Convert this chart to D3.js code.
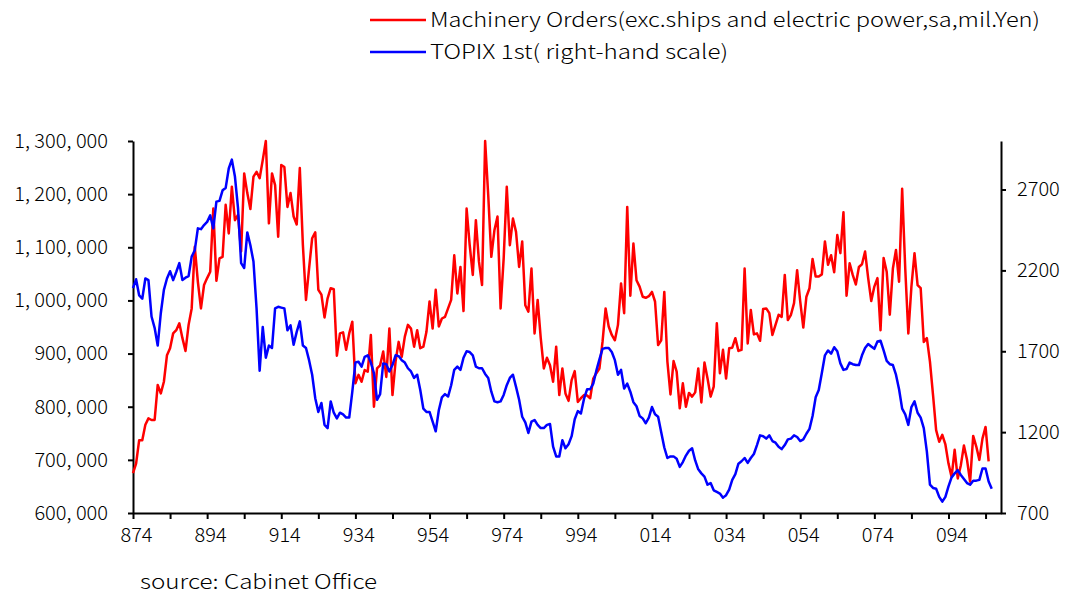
<!DOCTYPE html>
<html>
<head>
<meta charset="utf-8">
<script src="https://cdn.jsdelivr.net/npm/d3@7"></script>
<style>
body { margin: 0; background: #fff; }
text { font-family: "Noto Sans CJK JP", "Noto Sans", sans-serif; font-weight: 300; fill: #000; }
.axis path, .axis line { stroke: #000; stroke-width: 2; }
</style>
</head>
<body>
<div id="chart-area"></div>
<script>

// SVG Size
var width = 1065,
		height = 596;

// Monthly categories, 1987/4 .. 2010/9
var months = d3.timeMonths(new Date(1987, 3, 1), new Date(2010, 9, 1));

// Machinery Orders (exc. ships and electric power, sa, mil. Yen)
var machineryOrders = [
	675000, 693000, 737000, 737000, 766000, 778000, 775000, 775000, 841000, 825000,
	847000, 897000, 910000, 938000, 944000, 957000, 929000, 905000, 954000, 985000,
	1101000, 1035000, 985000, 1029000, 1042000, 1054000, 1173000, 1037000, 1079000, 1082000,
	1180000, 1126000, 1214000, 1151000, 1161000, 1092000, 1239000, 1202000, 1172000, 1233000,
	1242000, 1230000, 1264000, 1300000, 1145000, 1239000, 1217000, 1120000, 1255000, 1251000,
	1176000, 1202000, 1158000, 1143000, 1249000, 1104000, 1001000, 1060000, 1117000, 1128000,
	1020000, 1011000, 968000, 1004000, 1023000, 1021000, 896000, 938000, 940000, 907000,
	938000, 960000, 844000, 860000, 847000, 869000, 866000, 935000, 800000, 872000,
	878000, 904000, 856000, 947000, 822000, 885000, 922000, 894000, 932000, 954000,
	947000, 913000, 944000, 910000, 913000, 941000, 998000, 947000, 1020000, 951000,
	966000, 969000, 985000, 1001000, 1085000, 1013000, 1063000, 980000, 1173000, 1104000,
	1048000, 1151000, 1073000, 1029000, 1300000, 1198000, 1082000, 1132000, 1158000, 985000,
	1079000, 1214000, 1104000, 1154000, 1129000, 1063000, 1111000, 991000, 979000, 1060000,
	938000, 1001000, 929000, 872000, 892000, 878000, 847000, 913000, 822000, 872000,
	825000, 811000, 850000, 867000, 809000, 816000, 822000, 821000, 816000, 853000,
	863000, 872000, 922000, 985000, 951000, 935000, 925000, 954000, 1032000, 976000,
	1176000, 1009000, 1107000, 1038000, 1026000, 1007000, 1005000, 1008000, 1016000, 998000,
	916000, 925000, 1016000, 885000, 823000, 886000, 866000, 797000, 844000, 800000,
	826000, 819000, 827000, 872000, 808000, 883000, 853000, 819000, 838000, 957000,
	863000, 907000, 853000, 910000, 911000, 929000, 905000, 907000, 1060000, 919000,
	982000, 936000, 938000, 924000, 984000, 985000, 976000, 935000,
	954000, 973000, 969000, 1048000, 963000, 973000, 995000, 1057000, 998000, 949000,
	1007000, 1023000, 1078000, 1045000, 1045000, 1049000, 1111000, 1067000, 1085000, 1053000,
	1123000, 1089000, 1166000, 1009000, 1070000, 1048000, 1030000, 1063000, 1068000, 1092000,
	1042000, 999000, 1026000, 1042000, 944000, 1080000, 1054000, 973000, 1060000, 1095000,
	1035000, 1210000, 1060000, 938000, 1026000, 1089000, 1029000, 1023000, 922000, 929000,
	885000, 822000, 756000, 734000, 747000, 729000, 693000, 668000, 719000, 665000,
	690000, 727000, 700000, 659000, 745000, 725000, 700000, 740000, 762000, 697000
];

// TOPIX 1st section (right-hand scale)
var topix = [
	2090, 2145, 2045, 2025, 2150, 2140, 1915, 1845, 1735, 1935,
	2080, 2150, 2195, 2140, 2190, 2245, 2140, 2155, 2165, 2285,
	2325, 2460, 2455, 2480, 2500, 2540, 2460, 2625, 2630, 2695,
	2710, 2830, 2885, 2780, 2585, 2245, 2215, 2435, 2355, 2255,
	1965, 1580, 1850, 1660, 1735, 1720, 1965, 1975, 1970, 1965,
	1830, 1860, 1740, 1820, 1885, 1735, 1720, 1645, 1555, 1410,
	1325, 1380, 1245, 1225, 1390, 1320, 1285, 1320, 1310, 1290,
	1290, 1450, 1630, 1635, 1605, 1665, 1675, 1630, 1565, 1400,
	1435, 1625, 1620, 1575, 1615, 1675, 1670, 1645, 1630, 1595,
	1575, 1535, 1555, 1460, 1345, 1325, 1325, 1265, 1205, 1335,
	1415, 1435, 1420, 1490, 1585, 1605, 1585, 1660, 1700, 1695,
	1675, 1605, 1595, 1595, 1560, 1535, 1450, 1390, 1385, 1390,
	1430, 1490, 1535, 1555, 1480, 1400, 1295, 1260, 1195, 1265,
	1275, 1245, 1225, 1225, 1245, 1250, 1110, 1050, 1050, 1150,
	1100, 1125, 1175, 1280, 1330, 1315, 1405, 1465, 1465, 1500,
	1580, 1650, 1715, 1720, 1720, 1695, 1645, 1555, 1585, 1470,
	1500, 1450, 1385, 1360, 1300, 1285, 1255, 1290, 1355, 1310,
	1295, 1200, 1105, 1040, 1050, 1050, 1035, 985, 1015, 1055,
	1085, 1100, 1025, 970, 945, 925, 875, 885, 840, 830,
	820, 795, 810, 845, 905, 940, 1005, 1020, 1040, 1010,
	1040, 1065, 1120, 1180, 1175, 1160, 1180, 1145,
	1135, 1110, 1095, 1120, 1155, 1160, 1180, 1170, 1145, 1155,
	1190, 1220, 1300, 1415, 1460, 1565, 1675, 1705, 1685, 1725,
	1700, 1625, 1585, 1590, 1630, 1620, 1615, 1615, 1675, 1720,
	1745, 1730, 1715, 1760, 1765, 1705, 1640, 1620, 1615, 1555,
	1465, 1345, 1310, 1245, 1355, 1390, 1320, 1290, 1225, 1080,
	875, 855, 850, 800, 770, 800, 865, 920, 945, 965,
	935, 910, 885, 875, 900, 900, 905, 975, 975, 895, 850
];

// Tick labels
var xTickLabels = ["874", "894", "914", "934", "954", "974", "994", "014", "034", "054", "074", "094"];
var leftTicks = [600000, 700000, 800000, 900000, 1000000, 1100000, 1200000, 1300000];
var rightTicks = [700, 1200, 1700, 2200, 2700];

var legendLabels = ["Machinery Orders(exc.ships and electric power,sa,mil.Yen)", "TOPIX 1st( right-hand scale)"];
var sourceLabel = "source: Cabinet Office";

// Plot area
var plotLeft = 133, plotRight = 1001, plotTop = 141, plotBottom = 513;

var svg = d3.select("#chart-area").append("svg")
		.attr("width", width)
		.attr("height", height);

// X scale (one point per month)
var x = d3.scalePoint()
	.domain(months)
	.range([plotLeft, plotRight]);

// Y scales
var yLeft = d3.scaleLinear()
	.domain([600000, 1300000])
	.range([plotBottom, plotTop]);

var yRight = d3.scaleLinear()
	.domain([700, 3000])
	.range([plotBottom, plotTop]);

// Axes
var yearTicks = months.filter(function(d, i){ return i % 12 === 0; });

var xAxis = d3.axisBottom(x)
	.tickValues(yearTicks)
	.tickSize(6)
	.tickSizeOuter(0)
	.tickPadding(9)
	.tickFormat(function(d, i){ return i % 2 === 0 ? xTickLabels[i / 2] : ""; });

var leftAxis = d3.axisLeft(yLeft)
	.tickValues(leftTicks)
	.tickSize(5)
	.tickSizeOuter(0)
	.tickPadding(20)
	.tickFormat(function(d){ return d3.format(",")(d).replace(/,/g, ", "); });

var rightAxis = d3.axisRight(yRight)
	.tickValues(rightTicks)
	.tickSize(5)
	.tickSizeOuter(0)
	.tickPadding(11)
	.tickFormat(d3.format("d"));

svg.append("g")
	.attr("class", "axis")
	.attr("transform", "translate(0," + plotBottom + ")")
	.call(xAxis)
	.call(function(g){ g.selectAll("text").attr("dx", 3).style("font-size", "20px"); });

svg.append("g")
	.attr("class", "axis")
	.attr("transform", "translate(" + plotLeft + ",0)")
	.call(leftAxis)
	.call(function(g){ g.selectAll("text").style("font-size", "20px"); });

svg.append("g")
	.attr("class", "axis")
	.attr("transform", "translate(" + plotRight + ",0)")
	.call(rightAxis)
	.call(function(g){ g.selectAll("text").style("font-size", "20px"); });

svg.selectAll(".axis text").attr("fill", "#000");
svg.selectAll(".axis").attr("font-family", null).attr("font-size", null);

// Lines
var redLine = d3.line()
	.x(function(d, i){ return x(months[i]); })
	.y(function(d){ return yLeft(d); });

var blueLine = d3.line()
	.x(function(d, i){ return x(months[i]); })
	.y(function(d){ return yRight(d); });

svg.append("path")
	.datum(machineryOrders)
	.attr("fill", "none")
	.attr("stroke", "#ff0000")
	.attr("stroke-width", 2.5)
	.attr("stroke-linejoin", "round")
	.attr("d", redLine);

svg.append("path")
	.datum(topix)
	.attr("fill", "none")
	.attr("stroke", "#0000ff")
	.attr("stroke-width", 2.5)
	.attr("stroke-linejoin", "round")
	.attr("d", blueLine);

// Legend
var legendColors = ["#ff0000", "#0000ff"];
var legendWidths = [610, 298];

var legend = svg.selectAll(".legend")
	.data(legendLabels)
	.enter()
	.append("g")
	.attr("class", "legend")
	.attr("transform", function(d, i){ return "translate(370," + (20 + i * 32) + ")"; });

legend.append("line")
	.attr("x1", 0)
	.attr("x2", 56)
	.attr("stroke", function(d, i){ return legendColors[i]; })
	.attr("stroke-width", 2.5);

legend.append("text")
	.attr("x", 60)
	.attr("y", 7)
	.attr("textLength", function(d, i){ return legendWidths[i]; })
	.attr("lengthAdjust", "spacingAndGlyphs")
	.style("font-size", "20px")
	.text(function(d){ return d; });

// Source note
svg.append("text")
	.attr("x", 140)
	.attr("y", 589)
	.attr("textLength", 237)
	.attr("lengthAdjust", "spacingAndGlyphs")
	.style("font-size", "20px")
	.text(sourceLabel);

</script>
</body>
</html>
